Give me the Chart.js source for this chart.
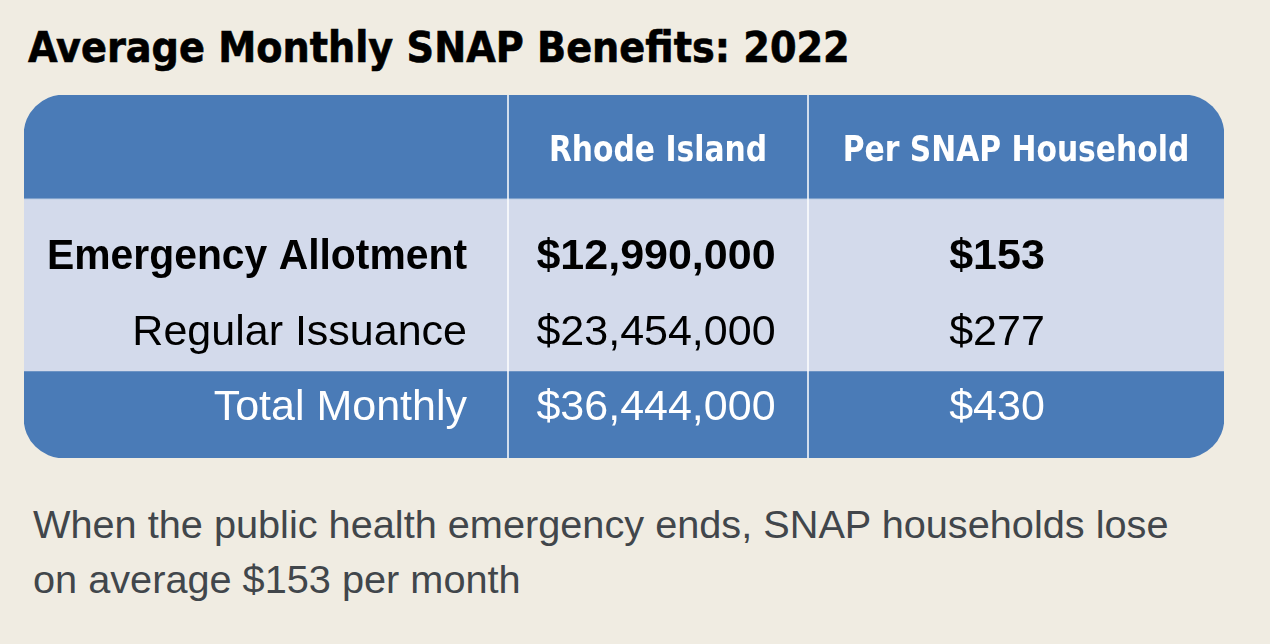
<!DOCTYPE html>
<html>
<head>
<meta charset="utf-8">
<script src="https://cdn.jsdelivr.net/npm/chart.js@4.4.1/dist/chart.umd.min.js"></script>
<style>
  html, body { margin:0; padding:0; width:1270px; height:644px; overflow:hidden; background:#f0ece2; }
  #title {
    position:absolute; left:28px; top:27px; margin:0;
    font:bold 42.5px 'DejaVu Sans Condensed','DejaVu Sans',sans-serif; font-stretch:condensed;
    line-height:1; color:#000; white-space:nowrap; -webkit-text-stroke:0.6px #000;
  }
  #table-box { position:absolute; left:24px; top:95px; width:1200px; height:363px; }
  #note {
    position:absolute; left:33px; top:497px; margin:0;
    font:39.7px 'Liberation Sans', Arial, sans-serif; line-height:55px; color:#41464b;
  }
</style>
</head>
<body>
<h1 id="title">Average Monthly SNAP Benefits: 2022</h1>
<div id="table-box"><canvas id="snapTable" width="1200" height="363"></canvas></div>
<p id="note">When the public health emergency ends, SNAP households lose<br>on average $153 per month</p>

<script>
// ===== Datos =====
const columnHeaders = ['', 'Rhode Island', 'Per SNAP Household'];
const rowLabels     = ['Emergency Allotment', 'Regular Issuance', 'Total Monthly'];
const stateTotals   = [12990000, 23454000, 36444000];
const perHousehold  = [153, 277, 430];

// ===== Layout de la tabla (unidades de escala) =====
const colWidths    = [484, 300, 416];
const rowHeights   = [104, 86, 86, 87];      // cabecera + 3 filas
const rowBaselines = [66, 174, 250, 325];    // línea base del texto dentro de la tabla
const valueShift   = [0, -2, -19];
const labelPad     = 41;
const corner       = 40;

const BLUE = '#4a7bb7';
const LAV  = '#d3daeb';
const rowFill = [BLUE, LAV, LAV, BLUE];
const rowInk  = ['#ffffff', '#000000', '#000000', '#ffffff'];
const rowBold = [true, true, false, false];

const HEAD_FONT = "bold 36px 'DejaVu Sans Condensed','DejaVu Sans',sans-serif";
const BODY_FAMILY = "'Liberation Sans', Arial, sans-serif";

const cumsum = arr => arr.reduce((acc, v) => { acc.push(acc[acc.length-1] + v); return acc; }, [0]);
const colEdges = cumsum(colWidths);
const rowEdges = cumsum(rowHeights);
const money = n => '$' + n.toLocaleString('en-US');

// celdas como barras flotantes: un dataset por fila
const datasets = rowHeights.map((h, r) => ({
  label: r === 0 ? 'header' : rowLabels[r-1],
  stack: 'table',
  data: colWidths.map((w, c) => ({ x: [colEdges[c], colEdges[c+1]], y: (rowEdges[r] + rowEdges[r+1]) / 2 })),
  backgroundColor: rowFill[r],
  barThickness: h,
  borderSkipped: false,
  borderWidth: 0,
  borderRadius: (ctx) => {
    const c = ctx.dataIndex;
    const last = colWidths.length - 1;
    return {
      topLeft:     r === 0 && c === 0 ? corner : 0,
      topRight:    r === 0 && c === last ? corner : 0,
      bottomLeft:  r === rowHeights.length-1 && c === 0 ? corner : 0,
      bottomRight: r === rowHeights.length-1 && c === last ? corner : 0
    };
  }
}));

function drawText(ctx, text, px, py, font, color, align, sx){
  ctx.save();
  ctx.font = font;
  ctx.fillStyle = color;
  ctx.textAlign = align;
  ctx.textBaseline = 'alphabetic';
  ctx.translate(px, py);
  ctx.scale(sx, 1);
  ctx.fillText(text, 0, 0);
  ctx.restore();
}

const tablePlugin = {
  id: 'tableText',
  afterDatasetsDraw(chart){
    const {ctx, scales:{x, y}} = chart;
    ctx.save();

    // separadores de columnas
    ctx.strokeStyle = '#ffffff';
    ctx.lineWidth = 1.5;
    [1, 2].forEach(c => {
      const px = x.getPixelForValue(colEdges[c]);
      ctx.beginPath();
      ctx.moveTo(px, y.getPixelForValue(0));
      ctx.lineTo(px, y.getPixelForValue(rowEdges[rowEdges.length-1]));
      ctx.stroke();
    });

    // línea bajo la cabecera
    ctx.strokeStyle = 'rgba(255,255,255,.4)';
    ctx.lineWidth = 1.5;
    const hy = y.getPixelForValue(rowEdges[1]);
    ctx.beginPath();
    ctx.moveTo(x.getPixelForValue(0), hy);
    ctx.lineTo(x.getPixelForValue(colEdges[3]), hy);
    ctx.stroke();
    ctx.restore();

    // cabecera
    columnHeaders.forEach((txt, c) => {
      if(!txt) return;
      const cx = x.getPixelForValue((colEdges[c] + colEdges[c+1]) / 2);
      drawText(ctx, txt, cx, y.getPixelForValue(rowBaselines[0]), HEAD_FONT, '#fff', 'center', 0.92);
    });

    // filas
    rowLabels.forEach((lab, i) => {
      const r = i + 1;
      const font = (rowBold[r] ? 'bold ' : '') + '43px ' + BODY_FAMILY;
      const by = y.getPixelForValue(rowBaselines[r]);
      drawText(ctx, lab, x.getPixelForValue(colEdges[1] - labelPad), by, font, rowInk[r], 'right', rowBold[r] ? 0.95 : 1);
      const vals = [money(stateTotals[i]), money(perHousehold[i])];
      vals.forEach((v, k) => {
        const c = k + 1;
        const cx = x.getPixelForValue((colEdges[c] + colEdges[c+1]) / 2 + valueShift[c]);
        drawText(ctx, v, cx, by, font, rowInk[r], 'center', 1);
      });
    });
  }
};

new Chart(document.getElementById('snapTable').getContext('2d'), {
  type: 'bar',
  data: { datasets },
  options: {
    indexAxis: 'y',
    responsive: false,
    animation: false,
    layout: { padding: 0 },
    plugins: { legend: { display: false }, tooltip: { enabled: false } },
    scales: {
      x: { type: 'linear', min: 0, max: colEdges[colEdges.length-1], display: false, stacked: false, offset: false },
      y: { type: 'linear', min: 0, max: rowEdges[rowEdges.length-1], reverse: true, display: false, offset: false }
    }
  },
  plugins: [tablePlugin]
});
</script>
</body>
</html>
